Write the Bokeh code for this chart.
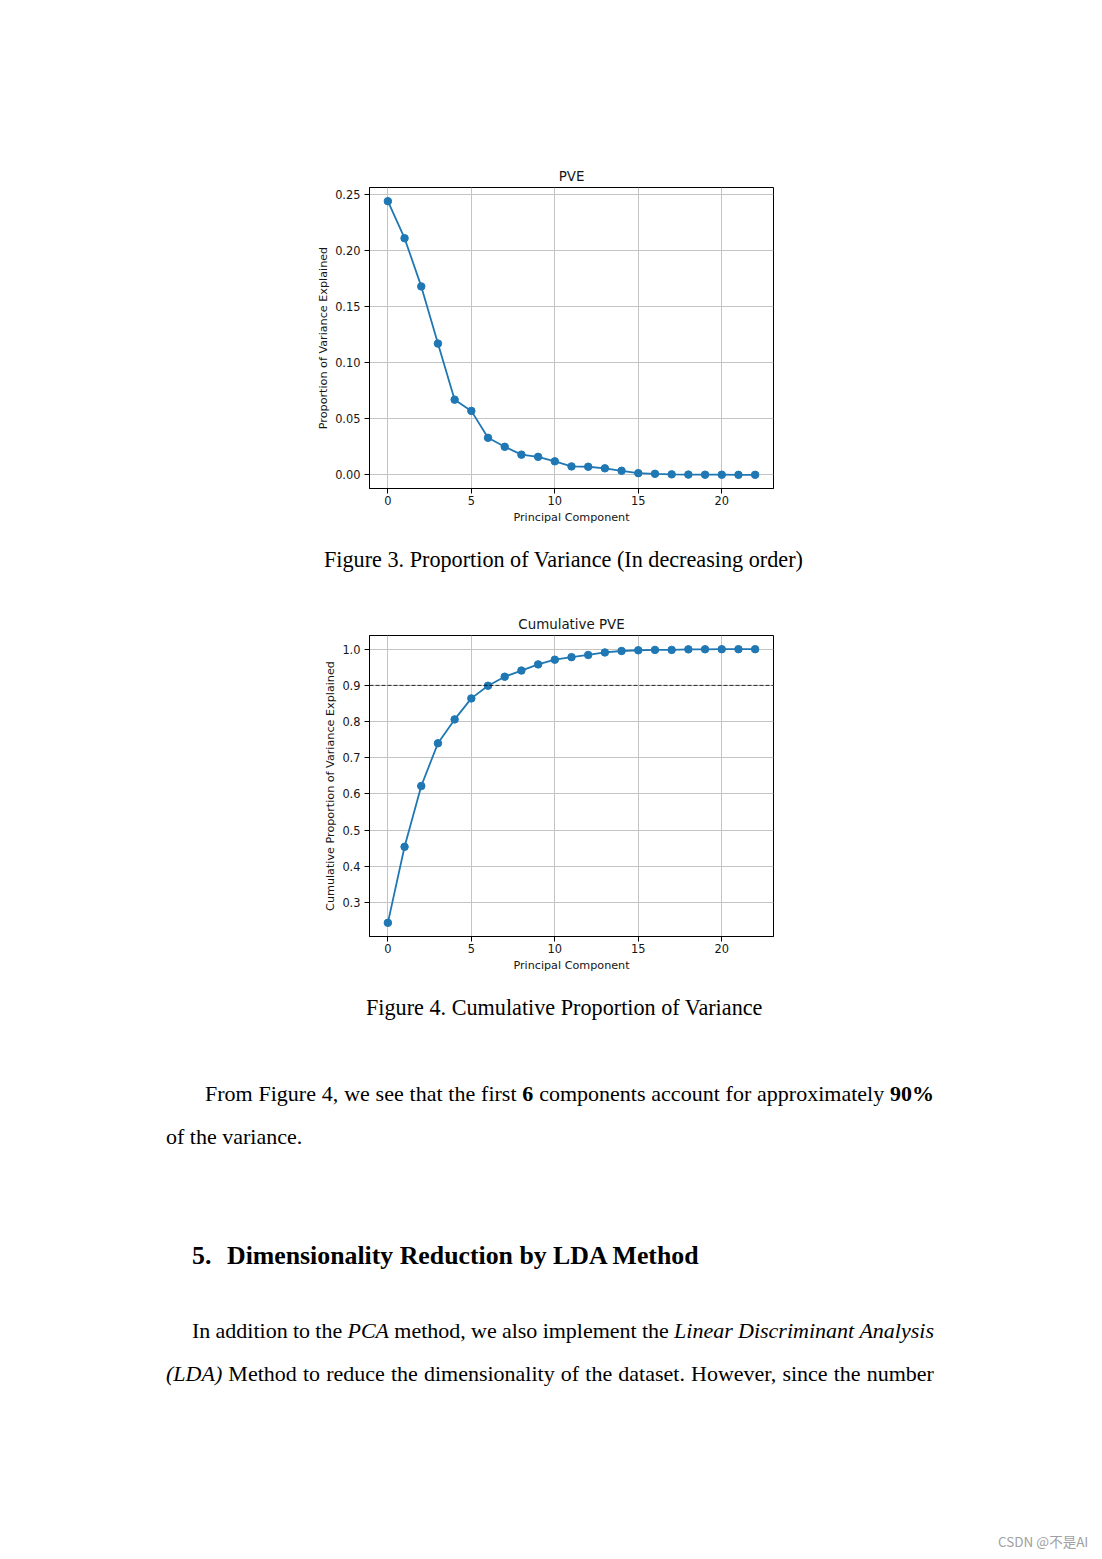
from bokeh.plotting import figure
from bokeh.models import Span, NumeralTickFormatter, FixedTicker, Div, Spacer
from bokeh.layouts import column, row
from bokeh.embed import file_html
from bokeh.resources import INLINE

# ---------------- data ----------------
components = [0, 1, 2, 3, 4, 5, 6, 7, 8, 9, 10, 11, 12, 13, 14, 15, 16, 17, 18, 19, 20, 21, 22]
pve = [0.244, 0.211, 0.168, 0.117, 0.067, 0.057, 0.033, 0.025, 0.018, 0.016, 0.012,
       0.0075, 0.0072, 0.0058, 0.0036, 0.0015, 0.0009, 0.0004, 0.0002, 0.0001, 0.0001, 0.0, 0.0]
cum_pve = [0.244, 0.454, 0.622, 0.740, 0.806, 0.864, 0.899, 0.924, 0.941, 0.958, 0.971,
           0.978, 0.984, 0.991, 0.995, 0.997, 0.998, 0.998, 0.9995, 0.9997, 0.9999, 1.0, 1.0]
threshold = 0.9
x_ticks = [0, 5, 10, 15, 20]
pve_ticks = [0.0, 0.05, 0.10, 0.15, 0.20, 0.25]
cum_ticks = [0.3, 0.4, 0.5, 0.6, 0.7, 0.8, 0.9, 1.0]

BLUE = "#1f77b4"
TXT = "#151515"
MPL_FONT = "DejaVu Sans"
LB = 64  # left border of each chart (px)


def make_chart(title, ylabel, ys, y_range, yticks, yfmt):
    p = figure(frame_width=404, frame_height=301, x_range=(-1.1, 23.1), y_range=y_range,
               output_backend="svg", toolbar_location=None, title=title,
               min_border_left=LB, min_border_right=10, min_border_top=30, min_border_bottom=44,
               background_fill_color="white", border_fill_color="white")
    p.title.align = "center"
    p.title.text_font = MPL_FONT
    p.title.text_font_size = "13.4px"
    p.title.text_font_style = "normal"
    p.title.text_color = TXT
    p.title.standoff = 8
    p.outline_line_color = "black"
    p.outline_line_width = 1
    for ax in (p.xaxis[0], p.yaxis[0]):
        ax.major_label_text_font = MPL_FONT
        ax.major_label_text_font_size = "11.4px"
        ax.major_label_text_color = TXT
        ax.axis_label_text_font = MPL_FONT
        ax.axis_label_text_font_size = "11.2px"
        ax.axis_label_text_font_style = "normal"
        ax.axis_label_text_color = TXT
        ax.major_tick_out = 5
        ax.major_tick_in = 0
        ax.minor_tick_out = 0
        ax.minor_tick_in = 0
        ax.axis_line_color = "black"
        ax.major_tick_line_color = "black"
    p.xaxis.ticker = FixedTicker(ticks=x_ticks)
    p.yaxis.ticker = FixedTicker(ticks=yticks)
    p.yaxis.formatter = NumeralTickFormatter(format=yfmt)
    p.xaxis.axis_label = "Principal Component"
    p.yaxis.axis_label = ylabel
    p.xaxis.major_label_standoff = 2
    p.yaxis.major_label_standoff = 4
    p.xaxis.axis_label_standoff = 3
    p.yaxis.axis_label_standoff = 2
    p.grid.grid_line_color = "#c4c4c4"
    p.grid.grid_line_width = 1
    p.line(components, ys, line_color=BLUE, line_width=1.8)
    p.scatter(components, ys, size=7.5, fill_color=BLUE, line_color=BLUE)
    return p


p1 = make_chart("PVE", "Proportion of Variance Explained", pve, (-0.0122, 0.2562), pve_ticks, "0.00")
p2 = make_chart("Cumulative PVE", "Cumulative Proportion of Variance Explained", cum_pve,
                (0.2062, 1.0378), cum_ticks, "0.0")
p2.add_layout(Span(location=threshold, dimension="width", line_color="black", line_alpha=0.8,
                   line_dash="4 2", line_width=1))

SERIF = "'Liberation Serif', 'Times New Roman', serif"


def word(t, style=""):
    if style == "b":
        return f"<span style='font-weight:bold'>{t}</span>"
    if style == "i":
        return f"<span style='font-style:italic'>{t}</span>"
    return f"<span>{t}</span>"


def line(left, baseline, fs, items, width=None, weight="normal", font=SERIF, color="#000", asc=0.8375):
    top = baseline - asc * fs
    style = (f"position:absolute;left:{left}px;top:{top:.1f}px;font-family:{font};font-size:{fs}px;"
             f"line-height:{fs}px;color:{color};white-space:nowrap;font-weight:{weight};")
    if width:
        style += f"width:{width}px;display:flex;justify-content:space-between;align-items:baseline;"
        inner = "".join(word(*it) if isinstance(it, tuple) else word(it) for it in items)
    else:
        inner = items
    return f"<div style=\"{style}\">{inner}</div>"


def block(h, lines):
    return (f"<div style='position:relative;width:1102px;height:{h}px;overflow:hidden;background:white'>"
            + "".join(lines) + "</div>")


# layout geometry (page pixels)
TOP1 = 157
FIG_H = 375
CAP_TOP = TOP1 + FIG_H          # 532
FIG2_TOP = 605
REST_TOP = FIG2_TOP + FIG_H     # 980
PAGE_H = 1559
SP_W = 369 - LB

cap1 = Div(text=block(FIG2_TOP - CAP_TOP, [
    line(324, 568 - CAP_TOP, 22.2, "Figure 3. Proportion of Variance (In decreasing order)")]),
    width=1102, height=FIG2_TOP - CAP_TOP, margin=(0, 0, 0, 0))

para1_l1 = ["From", "Figure", "4,", "we", "see", "that", "the", "first", ("6", "b"), "components",
            "account", "for", "approximately", ("90%", "b")]
para2_l1 = ["In", "addition", "to", "the", ("PCA", "i"), "method,", "we", "also", "implement", "the",
            ("Linear", "i"), ("Discriminant", "i"), ("Analysis", "i")]
para2_l2 = [("(LDA)", "i"), "Method", "to", "reduce", "the", "dimensionality", "of", "the", "dataset.",
            "However,", "since", "the", "number"]

R = REST_TOP
rest = Div(text=block(PAGE_H - R, [
    line(366, 1016 - R, 22.2, "Figure 4. Cumulative Proportion of Variance"),
    line(205, 1101 - R, 22, para1_l1, width=729),
    line(166, 1144 - R, 22, "of the variance."),
    line(192, 1265 - R, 25.8, "5.", weight="bold"),
    line(227, 1265 - R, 25.8, "Dimensionality Reduction by LDA Method", weight="bold"),
    line(192, 1338 - R, 22, para2_l1, width=742),
    line(166, 1381 - R, 22, para2_l2, width=768),
    line(998, 1547 - R, 13.5, "CSDN @不是AI", font="'Noto Sans CJK SC', sans-serif", color="#a0a0a0", asc=0.88),
]), width=1102, height=PAGE_H - R, margin=(0, 0, 0, 0))

layout = column(
    Spacer(width=1102, height=TOP1, margin=(0, 0, 0, 0)),
    row(Spacer(width=SP_W, height=FIG_H, margin=(0, 0, 0, 0)), p1, spacing=0, margin=(0, 0, 0, 0)),
    cap1,
    row(Spacer(width=SP_W, height=FIG_H, margin=(0, 0, 0, 0)), p2, spacing=0, margin=(0, 0, 0, 0)),
    rest,
    spacing=0, margin=(0, 0, 0, 0), background="white",
)

open("out.html", "w").write(file_html(layout, INLINE))
